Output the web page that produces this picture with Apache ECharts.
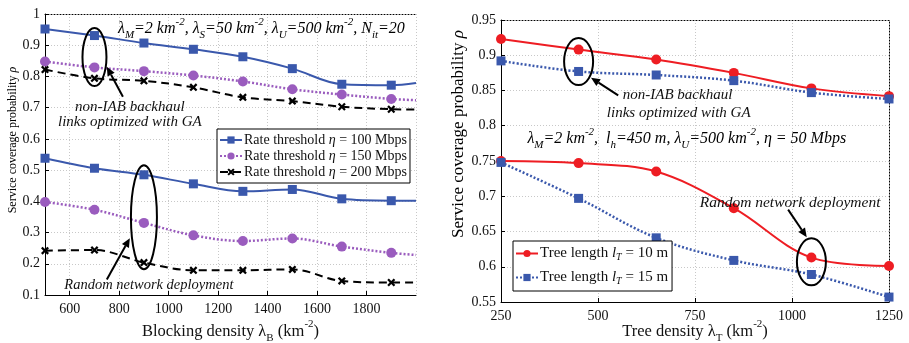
<!DOCTYPE html>
<html><head><meta charset="utf-8">
<script src="https://cdn.jsdelivr.net/npm/echarts@6/dist/echarts.min.js"></script>
<style>html,body{margin:0;padding:0;background:#fff}#c{width:909px;height:343px}</style>
</head><body><div id="c"></div>
<script>
// ---- Left chart data ----
const leftX = [500, 700, 900, 1100, 1300, 1500, 1700, 1900, 2000];
const ga100 = [0.952, 0.931, 0.907, 0.887, 0.863, 0.825, 0.775, 0.772, 0.779];
const ga150 = [0.848, 0.829, 0.817, 0.803, 0.784, 0.759, 0.742, 0.728, 0.724];
const ga200 = [0.822, 0.794, 0.786, 0.765, 0.733, 0.721, 0.703, 0.695, 0.694];
const rnd100 = [0.538, 0.506, 0.485, 0.456, 0.432, 0.438, 0.408, 0.402, 0.402];
const rnd150 = [0.398, 0.373, 0.331, 0.291, 0.273, 0.281, 0.255, 0.235, 0.228];
const rnd200 = [0.242, 0.244, 0.204, 0.179, 0.179, 0.182, 0.145, 0.140, 0.140];
const leftNames = ['Rate threshold η = 100 Mbps', 'Rate threshold η = 150 Mbps', 'Rate threshold η = 200 Mbps'];
// ---- Right chart data ----
const rightX = [250, 450, 650, 850, 1050, 1250];
const ga10 = [0.923, 0.908, 0.894, 0.875, 0.853, 0.842];
const ga15 = [0.892, 0.877, 0.872, 0.864, 0.847, 0.838];
const rnd10 = [0.750, 0.747, 0.735, 0.683, 0.613, 0.601];
const rnd15 = [0.748, 0.697, 0.641, 0.609, 0.589, 0.557];
const rightNames = ['Tree length lT = 10 m', 'Tree length lT = 15 m'];

const FONT = 'Liberation Serif';
const BLUE = '#3A58AC', PURPLE = '#9A5CBE', BLACK = '#000', RED = '#EE1D23';
const CROSS = 'path://M2,0 L5,3 L8,0 L10,2 L7,5 L10,8 L8,10 L5,7 L2,10 L0,8 L3,5 L0,2 Z';

function pairs(xs, ys, lastNoMarker) {
  return xs.map((x, i) => {
    if (lastNoMarker && i === xs.length - 1) return { value: [x, ys[i]], symbol: 'none' };
    return [x, ys[i]];
  });
}
function lineSeries(name, xi, yi, xs, ys, color, type, symbol, size, width, lastNoMarker) {
  return {
    type: 'line', name, xAxisIndex: xi, yAxisIndex: yi, data: pairs(xs, ys, lastNoMarker),
    smooth: 0.35, symbol, symbolSize: size, showAllSymbol: true,
    lineStyle: { color, width, type }, itemStyle: { color, borderWidth: 0 },
    emphasis: { disabled: true }, z: 3
  };
}
function mkRich(fs, italic) {
  const fsS = Math.round(fs * 0.68);
  const it = italic ? 'italic' : 'normal';
  return {
    n: { fontFamily: FONT, fontSize: fs, color: '#111', lineHeight: fs + 8, fontStyle: it },
    i: { fontFamily: FONT, fontSize: fs, color: '#111', fontStyle: 'italic', lineHeight: fs + 8 },
    sub: { fontFamily: FONT, fontSize: fsS, color: '#111', lineHeight: fsS + 1, verticalAlign: 'bottom', fontStyle: it },
    sup: { fontFamily: FONT, fontSize: fsS, color: '#111', lineHeight: fsS + 1, verticalAlign: 'top', fontStyle: it }
  };
}
const axisRich = mkRich(16.5, false);
const legendRich = {
  n: { fontFamily: FONT, fontSize: 14, color: '#111', lineHeight: 16 },
  i: { fontFamily: FONT, fontSize: 14, color: '#111', fontStyle: 'italic', lineHeight: 16 },
  n2: { fontFamily: FONT, fontSize: 15, color: '#111', lineHeight: 17 },
  i2: { fontFamily: FONT, fontSize: 15, color: '#111', fontStyle: 'italic', lineHeight: 17 },
  isub: { fontFamily: FONT, fontSize: 10, color: '#111', fontStyle: 'italic', lineHeight: 8, verticalAlign: 'bottom' }
};
const tickLabel = { fontFamily: FONT, fontSize: 14, color: '#111', formatter: v => String(+v.toFixed(4)) };
function gridAxisX(gi, min, max, extra, name, nameGap) {
  return Object.assign({
    type: 'value', gridIndex: gi, min, max,
    axisLine: { show: true, onZero: false, lineStyle: { color: '#000', width: 1 } },
    axisTick: { show: true, inside: true, length: 4, lineStyle: { color: '#000' } },
    axisLabel: Object.assign({ margin: 7 }, tickLabel),
    splitLine: { show: true, lineStyle: { color: '#c8c8c8', type: [1, 2], width: 1 } },
    name, nameLocation: 'middle', nameGap, nameMoveOverlap: false, nameTextStyle: { rich: axisRich }
  }, extra);
}
function gridAxisY(gi, min, max, interval) {
  return {
    type: 'value', gridIndex: gi, min, max, interval,
    axisLine: { show: true, onZero: false, lineStyle: { color: '#000', width: 1 } },
    axisTick: { show: true, inside: true, length: 4, lineStyle: { color: '#000' } },
    axisLabel: Object.assign({ margin: 5 }, tickLabel),
    splitLine: { show: true, lineStyle: { color: '#c8c8c8', type: [1, 2], width: 1 } }
  };
}
function borderAxis(gi, pos, min, max) {
  return {
    type: 'value', gridIndex: gi, position: pos, min, max,
    axisLine: { show: true, onZero: false, lineStyle: { color: '#000', width: 1, type: [1, 2] } },
    axisTick: { show: false }, axisLabel: { show: false }, splitLine: { show: false }
  };
}

const option = {
  animation: false,
  backgroundColor: '#fff',
  grid: [
    { left: 45, right: 493, top: 14, bottom: 48, containLabel: false, outerBoundsMode: 'none' },
    { left: 501, right: 20, top: 20, bottom: 41, containLabel: false, outerBoundsMode: 'none' }
  ],
  xAxis: [
    gridAxisX(0, 500, 2000, { minInterval: 200, maxInterval: 200, axisLabel: Object.assign({ margin: 7, showMinLabel: false, showMaxLabel: false }, tickLabel) },
      '{n|Blocking density λ}{sub|B}{n| (km}{sup|-2}{n|)}', 24),
    gridAxisX(1, 250, 1250, { interval: 250 }, '{n|Tree density λ}{sub|T}{n| (km}{sup|-2}{n|)}', 17),
    borderAxis(0, 'top', 500, 2000),
    borderAxis(1, 'top', 250, 1250)
  ],
  yAxis: [
    gridAxisY(0, 0.1, 1, 0.1),
    gridAxisY(1, 0.55, 0.95, 0.05),
    borderAxis(1, 'right', 0.55, 0.95)
  ],
  legend: [
    {
      data: leftNames, left: 217, top: 129, orient: 'vertical', itemGap: 2, itemWidth: 22, itemHeight: 9,
      padding: [4, 3, 4, 2], borderColor: '#000', borderWidth: 1, backgroundColor: '#fff',
      selectedMode: false,
      formatter: n => { const v = n.match(/(\d+)/)[1]; return '{n|Rate threshold }{i|η}{n| = ' + v + ' Mbps}'; },
      textStyle: { rich: legendRich, padding: [0, 0, 0, -3] }
    },
    {
      data: rightNames, left: 513, top: 241, orient: 'vertical', itemGap: 8, itemWidth: 22, itemHeight: 9,
      padding: [5, 4, 5, 2], borderColor: '#000', borderWidth: 1, backgroundColor: '#fff',
      selectedMode: false,
      formatter: n => { const v = n.match(/(\d+) m/)[1]; return '{n2|Tree length }{i2|l}{isub|T}{n2| = ' + v + ' m}'; },
      textStyle: { rich: legendRich, padding: [0, 0, 0, -3] }
    }
  ],
  series: [
    lineSeries(leftNames[0], 0, 0, leftX, ga100, BLUE, 'solid', 'rect', 9, 2, true),
    lineSeries(leftNames[1], 0, 0, leftX, ga150, PURPLE, [2, 2], 'circle', 10, 2.5, true),
    lineSeries(leftNames[2], 0, 0, leftX, ga200, BLACK, [8, 5], CROSS, 8, 2, true),
    lineSeries(leftNames[0], 0, 0, leftX, rnd100, BLUE, 'solid', 'rect', 9, 2, true),
    lineSeries(leftNames[1], 0, 0, leftX, rnd150, PURPLE, [2, 2], 'circle', 10, 2.5, true),
    lineSeries(leftNames[2], 0, 0, leftX, rnd200, BLACK, [8, 5], CROSS, 8, 2, true),
    lineSeries(rightNames[0], 1, 1, rightX, ga10, RED, 'solid', 'circle', 10, 2, false),
    lineSeries(rightNames[1], 1, 1, rightX, ga15, BLUE, [2, 2], 'rect', 9, 2.5, false),
    lineSeries(rightNames[0], 1, 1, rightX, rnd10, RED, 'solid', 'circle', 10, 2, false),
    lineSeries(rightNames[1], 1, 1, rightX, rnd15, BLUE, [2, 2], 'rect', 9, 2.5, false)
  ]
};
const chart = echarts.init(document.getElementById('c'), null, { renderer: 'canvas' });
chart.setOption(option);

// ---- annotations, positioned in data space ----
function px(gi, x, y) { return chart.convertToPixel({ xAxisIndex: gi, yAxisIndex: gi }, [x, y]); }
const g = [];
function ellipse(gi, x, y, rx, ry) {
  const p = px(gi, x, y);
  g.push({ type: 'ellipse', shape: { cx: p[0], cy: p[1], rx, ry }, style: { fill: null, stroke: '#000', lineWidth: 2 }, z: 10 });
}
function arrow(gi, x1, y1, x2, y2) {
  const a = px(gi, x1, y1), b = px(gi, x2, y2);
  const ang = Math.atan2(b[1] - a[1], b[0] - a[0]);
  const L = 9, W = 4;
  const bx = b[0] - L * Math.cos(ang), by = b[1] - L * Math.sin(ang);
  g.push({ type: 'line', shape: { x1: a[0], y1: a[1], x2: bx, y2: by }, style: { stroke: '#000', lineWidth: 2 }, z: 10 });
  g.push({ type: 'polygon', shape: { points: [b, [bx + W * Math.sin(ang), by - W * Math.cos(ang)], [bx - W * Math.sin(ang), by + W * Math.cos(ang)]] }, style: { fill: '#000' }, z: 10 });
}
function label(gi, x, y, text, fs) {
  const p = px(gi, x, y);
  g.push({ type: 'text', x: p[0], y: p[1], style: { text, fontFamily: FONT, fontSize: fs, fontStyle: 'italic', fill: '#111', align: 'center', verticalAlign: 'middle' }, z: 11 });
}
function richLabel(gi, x, y, text, fs, align) {
  const p = px(gi, x, y);
  g.push({ type: 'text', x: p[0], y: p[1], style: { text, rich: mkRich(fs, true), align, verticalAlign: 'middle' }, z: 11 });
}
// left chart
ellipse(0, 700, 0.862, 12, 29);
arrow(0, 815, 0.735, 750, 0.831);
label(0, 843, 0.702, 'non-IAB backhaul', 15);
label(0, 843, 0.654, 'links optimized with GA', 15);
ellipse(0, 900, 0.349, 13, 52);
arrow(0, 750, 0.150, 843, 0.282);
label(0, 920, 0.131, 'Random network deployment', 14.5);
richLabel(0, 795, 0.952, '{n|λ}{sub|M}{n|=2 km}{sup|-2}{n|, λ}{sub|S}{n|=50 km}{sup|-2}{n|, λ}{sub|U}{n|=500 km}{sup|-2}{n|, N}{sub|it}{n|=20}', 16, 'left');
// right chart
ellipse(1, 450, 0.891, 14.5, 23.5);
arrow(1, 552, 0.843, 482, 0.868);
label(1, 705, 0.843, 'non-IAB backhaul', 15);
label(1, 708, 0.818, 'links optimized with GA', 15);
ellipse(1, 1050, 0.607, 14.5, 23.5);
arrow(1, 990, 0.681, 1038, 0.642);
label(1, 995, 0.690, 'Random network deployment', 15.5);
richLabel(1, 318, 0.782, '{n|λ}{sub|M}{n|=2 km}{sup|-2}{n|,  l}{sub|h}{n|=450 m, λ}{sub|U}{n|=500 km}{sup|-2}{n|, η = 50 Mbps}', 16, 'left');
// y axis titles
const yRichL = { n: { fontFamily: FONT, fontSize: 12, color: '#111' }, i: { fontFamily: FONT, fontSize: 12, color: '#111', fontStyle: 'italic' } };
const yRichR = { n: { fontFamily: FONT, fontSize: 17, color: '#111' }, i: { fontFamily: FONT, fontSize: 17, color: '#111', fontStyle: 'italic' } };
g.push({ type: 'text', x: 13, y: 140, rotation: Math.PI / 2, style: { text: '{n|Service coverage probability }{i|ρ}', rich: yRichL, align: 'center', verticalAlign: 'middle' } });
g.push({ type: 'text', x: 459, y: 134, rotation: Math.PI / 2, style: { text: '{n|Service coverage probability }{i|ρ}', rich: yRichR, align: 'center', verticalAlign: 'middle' } });
chart.setOption({ graphic: g });
</script></body></html>
